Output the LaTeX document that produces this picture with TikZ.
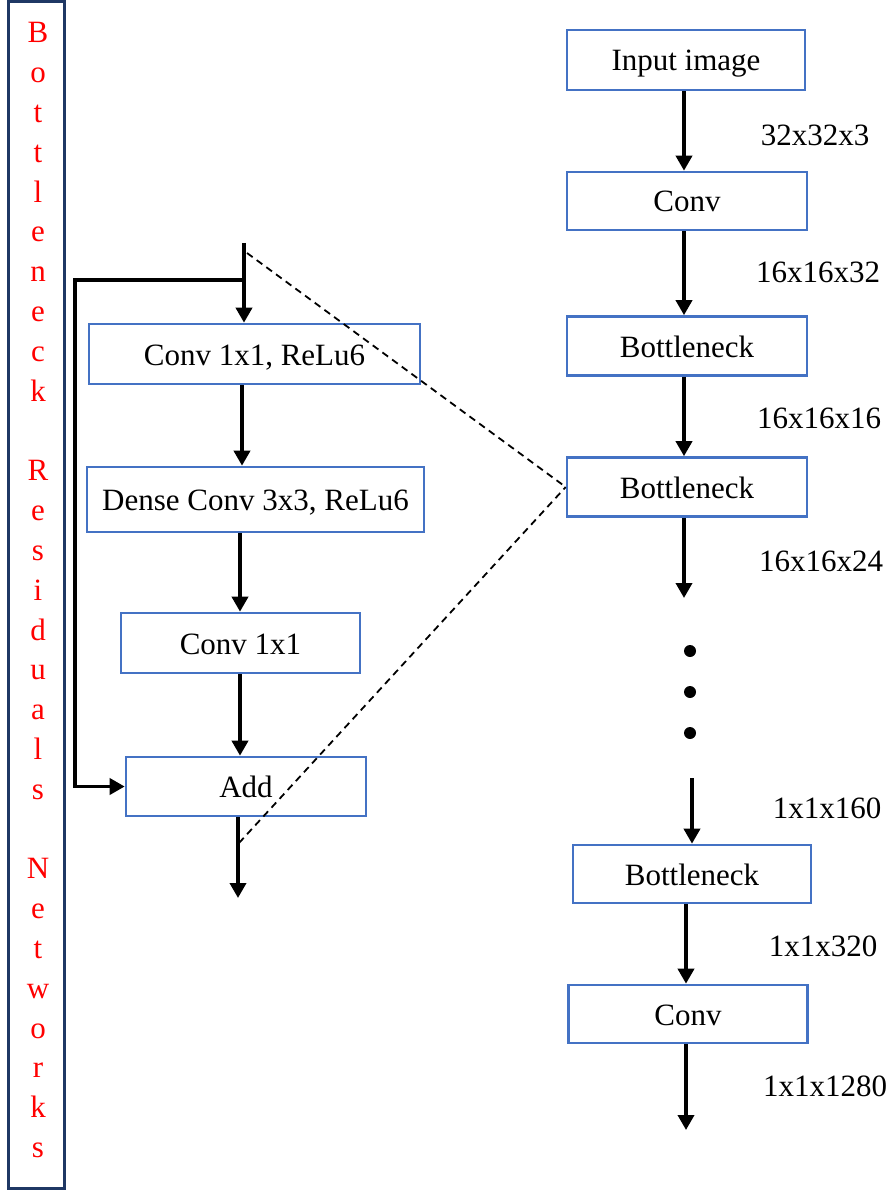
\documentclass[tikz,border=0pt]{standalone}
\usepackage{fontspec}
\setmainfont{Liberation Serif}
\usetikzlibrary{arrows.meta}
\definecolor{boxblue}{RGB}{68,114,196}
\definecolor{framenavy}{RGB}{31,56,100}
\tikzset{
  txt/.style={font=\fontsize{31}{37}\selectfont},
  blk/.style={txt, draw=boxblue, line width=2.6pt, fill=white, inner sep=0pt,
              text height=22pt, text depth=0pt},
  arr/.style={line width=3.6pt, -{Triangle[width=16pt,length=15pt]}},
  flow/.style={line width=3.6pt},
  zoomline/.style={line width=1.8pt, dash pattern=on 7pt off 5pt},
  dim/.style={txt, inner sep=0pt},
  letter/.style={txt, text=red, anchor=base, inner sep=0pt}
}
\begin{document}
\begin{tikzpicture}[x=1pt,y=-1pt]
\useasboundingbox (0,0) rectangle (890,1190);

% vertical title frame
\draw[framenavy, line width=3pt] (8,2) rectangle (64,1188);
\foreach \ch [count=\i from 0] in {B,o,t,t,l,e,n,e,c,k,{},R,e,s,i,d,u,a,l,s,{},N,e,t,w,o,r,k,s}
  \node[letter] (t\i) at (38,43+\i*39.8) {\ch};

% main network column
\node[blk, minimum width=238pt, minimum height=60pt] (in1) at (686,60)  {Input image};
\node[blk, minimum width=240pt, minimum height=58pt] (c1)  at (687,201) {Conv};
\node[blk, minimum width=240pt, minimum height=59pt] (b1)  at (687,346) {Bottleneck};
\node[blk, minimum width=240pt, minimum height=59pt] (b2)  at (687,487) {Bottleneck};
\node[blk, minimum width=238pt, minimum height=58pt] (b3)  at (692,874) {Bottleneck};
\node[blk, minimum width=239pt, minimum height=58pt] (c2)  at (688,1014) {Conv};

\coordinate (rx) at (684,0);
\draw[arr] (in1.south -| rx) -- (c1.north -| rx);
\draw[arr] (c1.south -| rx) -- (b1.north -| rx);
\draw[arr] (b1.south -| rx) -- (b2.north -| rx);
\coordinate (b2out) at (684,598);
\draw[arr] (b2.south -| rx) -- (b2out);
\foreach \yy [count=\k] in {651,692,733}
  \fill (690,\yy) circle (6pt) coordinate (dot\k);
\coordinate (b3in) at (692,778);
\draw[arr] (b3in) -- (b3.north);
\coordinate (rx2) at (686,0);
\draw[arr] (b3.south -| rx2) -- (c2.north -| rx2);
\coordinate (c2out) at (686,1130);
\draw[arr] (c2.south -| rx2) -- (c2out);

% tensor sizes
\node[dim] (s1) at (815,135)  {32x32x3};
\node[dim] (s2) at (818,272)  {16x16x32};
\node[dim] (s3) at (819,418)  {16x16x16};
\node[dim] (s4) at (821,561)  {16x16x24};
\node[dim] (s5) at (827,808)  {1x1x160};
\node[dim] (s6) at (823,946)  {1x1x320};
\node[dim] (s7) at (825,1086) {1x1x1280};

% expanded bottleneck block
\node[blk, minimum width=331pt, minimum height=60pt] (l1)  at (254.5,354)  {Conv 1x1, ReLu6};
\node[blk, minimum width=337pt, minimum height=65pt] (l2)  at (255.5,499.5) {Dense Conv 3x3, ReLu6};
\node[blk, minimum width=239pt, minimum height=60pt] (l3)  at (240.5,643)  {Conv 1x1};
\node[blk, minimum width=240pt, minimum height=59pt] (add) at (246,786.5)  {Add};

\coordinate (top) at (244,243);
\coordinate (split) at (244,280);
\coordinate (skip) at (75,280);
\coordinate (lx) at (242,0);
\coordinate (lx2) at (240,0);
\coordinate (bx) at (238,0);
\coordinate (out) at (238,898);

\draw[flow] (top) -- (split);
\draw[arr] (split) -- (l1.north -| top);
\draw[arr, line join=miter] (split) -- (skip) |- (add.west);
\draw[arr] (l1.south -| lx) -- (l2.north -| lx);
\draw[arr] (l2.south -| lx2) -- (l3.north -| lx2);
\draw[arr] (l3.south -| lx2) -- (add.north -| lx2);
\draw[arr] (add.south -| bx) -- (out);

% zoom guides to the second bottleneck
\coordinate (zt) at (247,253);
\coordinate (zb) at (239,843);
\draw[zoomline] (zt) -- (b2.west);
\draw[zoomline] (zb) -- (b2.west);
\end{tikzpicture}
\end{document}
